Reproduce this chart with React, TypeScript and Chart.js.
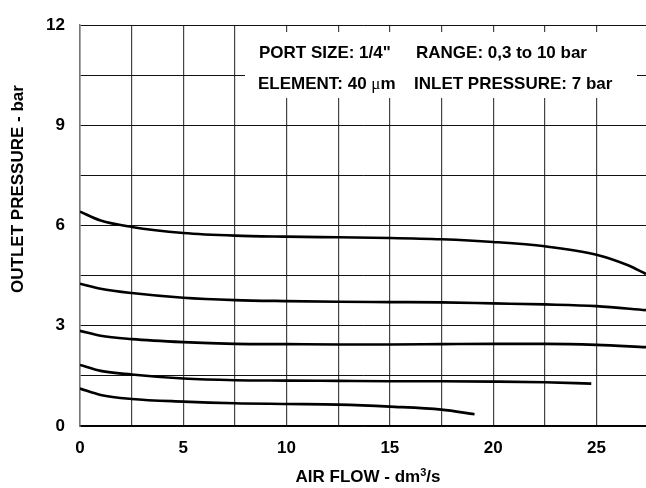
import { useEffect, useRef } from 'react';
import { Chart, registerables } from 'chart.js';

Chart.register(...registerables);

const FONT = '"Liberation Sans", Arial, Helvetica, sans-serif';

// Axis ranges / ticks
const X_MIN = 0;
const X_MAX = 27.4;
const X_GRID_STEP = 2.5;
const X_LABEL_STEP = 5;
const Y_MIN = 0;
const Y_MAX = 12;
const Y_GRID_STEP = 1.5;
const Y_LABEL_STEP = 3;

// Curves (air flow dm3/s -> outlet pressure bar)
const flowA = [0, 1, 2.5, 5, 7.5, 10, 12.5, 15, 17.5, 20, 22.5, 25, 26.5, 27.4];
const pressureA = [6.42, 6.15, 5.96, 5.78, 5.7, 5.67, 5.65, 5.63, 5.59, 5.51, 5.38, 5.13, 4.82, 4.55];
const flowB = [0, 1, 2.5, 5, 7.5, 10, 12.5, 15, 17.5, 20, 22.5, 25, 27.4];
const pressureB = [4.26, 4.11, 3.98, 3.84, 3.77, 3.74, 3.72, 3.71, 3.7, 3.67, 3.64, 3.59, 3.47];
const flowC = [0, 1, 2.5, 5, 7.5, 10, 12.5, 15, 17.5, 20, 22.5, 25, 27.4];
const pressureC = [2.85, 2.7, 2.6, 2.51, 2.46, 2.45, 2.44, 2.44, 2.45, 2.46, 2.46, 2.43, 2.36];
const flowD = [0, 1, 2.5, 5, 7.5, 10, 12.5, 15, 17.5, 20, 22.5, 24.75];
const pressureD = [1.83, 1.65, 1.54, 1.42, 1.37, 1.36, 1.35, 1.34, 1.34, 1.33, 1.31, 1.27];
const flowE = [0, 1, 2.5, 5, 7.5, 10, 12.5, 15, 17.5, 19.1];
const pressureE = [1.12, 0.93, 0.81, 0.73, 0.68, 0.66, 0.64, 0.58, 0.49, 0.35];

// Texts
const Y_TITLE = 'OUTLET PRESSURE - bar';
const X_TITLE_MAIN = 'AIR FLOW - dm';
const X_TITLE_SUP = '3';
const X_TITLE_END = '/s';
const NOTE_PORT = 'PORT SIZE: 1/4"';
const NOTE_RANGE = 'RANGE: 0,3 to 10 bar';
const NOTE_ELEMENT_A = 'ELEMENT: 40 ';
const NOTE_ELEMENT_MU = 'μ';
const NOTE_ELEMENT_B = 'm';
const NOTE_INLET = 'INLET PRESSURE: 7 bar';

const curves = [
  [flowA, pressureA],
  [flowB, pressureB],
  [flowC, pressureC],
  [flowD, pressureD],
  [flowE, pressureE],
];

const isMultiple = (v: number, step: number) => Math.abs(v / step - Math.round(v / step)) < 1e-6;

const textPlugin = {
  id: 'textPlugin',
  beforeDatasetsDraw(chart: any) {
    const ctx = chart.ctx as CanvasRenderingContext2D;
    ctx.save();
    // white note box over the grid
    ctx.fillStyle = '#ffffff';
    ctx.fillRect(245, 32, 392, 66);
    ctx.fillStyle = '#000000';
    ctx.textAlign = 'left';
    ctx.textBaseline = 'alphabetic';
    ctx.font = `bold 17px ${FONT}`;
    ctx.fillText(NOTE_PORT, 259, 57.5);
    ctx.fillText(NOTE_RANGE, 416, 57.5);
    let x = 258;
    ctx.fillText(NOTE_ELEMENT_A, x, 88.5);
    x += ctx.measureText(NOTE_ELEMENT_A).width;
    ctx.font = `17px "Liberation Serif", "Times New Roman", serif`;
    ctx.fillText(NOTE_ELEMENT_MU, x, 88.5);
    x += ctx.measureText(NOTE_ELEMENT_MU).width;
    ctx.font = `bold 17px ${FONT}`;
    ctx.fillText(NOTE_ELEMENT_B, x, 88.5);
    ctx.fillText(NOTE_INLET, 414, 88.5);
    ctx.restore();
  },
  afterDraw(chart: any) {
    const ctx = chart.ctx as CanvasRenderingContext2D;
    ctx.save();
    ctx.fillStyle = '#000000';
    // y title
    ctx.font = `bold 17px ${FONT}`;
    ctx.translate(18, 189);
    ctx.rotate(-Math.PI / 2);
    ctx.textAlign = 'center';
    ctx.textBaseline = 'middle';
    ctx.fillText(Y_TITLE, 0, 0);
    ctx.restore();

    ctx.save();
    ctx.fillStyle = '#000000';
    ctx.textAlign = 'left';
    ctx.textBaseline = 'alphabetic';
    const big = `bold 17px ${FONT}`;
    const small = `bold 11px ${FONT}`;
    ctx.font = big;
    const w1 = ctx.measureText(X_TITLE_MAIN).width;
    const w3 = ctx.measureText(X_TITLE_END).width;
    ctx.font = small;
    const w2 = ctx.measureText(X_TITLE_SUP).width;
    const total = w1 + w2 + w3;
    const cx = (chart.chartArea.left + chart.chartArea.right) / 2 + 5;
    let x = cx - total / 2;
    const base = 482;
    ctx.font = big;
    ctx.fillText(X_TITLE_MAIN, x, base);
    x += w1;
    ctx.font = small;
    ctx.fillText(X_TITLE_SUP, x, base - 6);
    x += w2;
    ctx.font = big;
    ctx.fillText(X_TITLE_END, x, base);
    ctx.restore();
  },
};

export default function App() {
  const ref = useRef<HTMLCanvasElement | null>(null);

  useEffect(() => {
    if (!ref.current) return;
    const datasets = curves.map(([xs, ys]) => ({
      data: xs.map((v, i) => ({ x: v, y: ys[i] })),
      borderColor: '#000000',
      borderWidth: 2.6,
      pointRadius: 0,
      fill: false,
      cubicInterpolationMode: 'monotone' as const,
    }));

    const chart = new Chart(ref.current, {
      type: 'line',
      data: { datasets },
      options: {
        animation: false,
        responsive: false,
        events: [],
        layout: { padding: { top: 14, left: 0, right: 0, bottom: 0 } },
        plugins: {
          legend: { display: false },
          tooltip: { enabled: false },
          title: { display: false },
        },
        scales: {
          x: {
            type: 'linear',
            min: X_MIN,
            max: X_MAX,
            ticks: {
              stepSize: X_GRID_STEP,
              includeBounds: false,
              autoSkip: false,
              maxRotation: 0,
              padding: 12,
              color: '#000000',
              font: { family: FONT, size: 17, weight: 'bold' },
              callback: (v: any) => (isMultiple(Number(v), X_LABEL_STEP) ? String(v) : ''),
            },
            afterBuildTicks: (scale: any) => {
              scale.ticks = scale.ticks.filter((t: any) => isMultiple(t.value, X_GRID_STEP));
            },
            afterFit: (scale: any) => {
              scale.height = 62;
            },
            grid: { color: '#444444', lineWidth: 1.2, drawTicks: false },
            border: { color: '#000000', width: 1.5 },
          },
          y: {
            type: 'linear',
            min: Y_MIN,
            max: Y_MAX,
            ticks: {
              stepSize: Y_GRID_STEP,
              autoSkip: false,
              padding: 15,
              color: '#000000',
              font: { family: FONT, size: 17, weight: 'bold' },
              callback: (v: any) => (isMultiple(Number(v), Y_LABEL_STEP) ? String(v) : ''),
            },
            afterBuildTicks: (scale: any) => {
              scale.ticks = scale.ticks.filter((t: any) => isMultiple(t.value, Y_GRID_STEP));
            },
            afterFit: (scale: any) => {
              scale.width = 80;
            },
            grid: { color: '#111111', lineWidth: 1, drawTicks: false },
            border: { color: '#777777', width: 1.5 },
          },
        },
      },
      plugins: [textPlugin],
    });
    return () => chart.destroy();
  }, []);

  return (
    <div style={{ position: 'absolute', left: 0, top: 0, width: 646, height: 488, background: '#fff' }}>
      <canvas ref={ref} width={646} height={488} style={{ width: 646, height: 488, display: 'block' }} />
    </div>
  );
}
